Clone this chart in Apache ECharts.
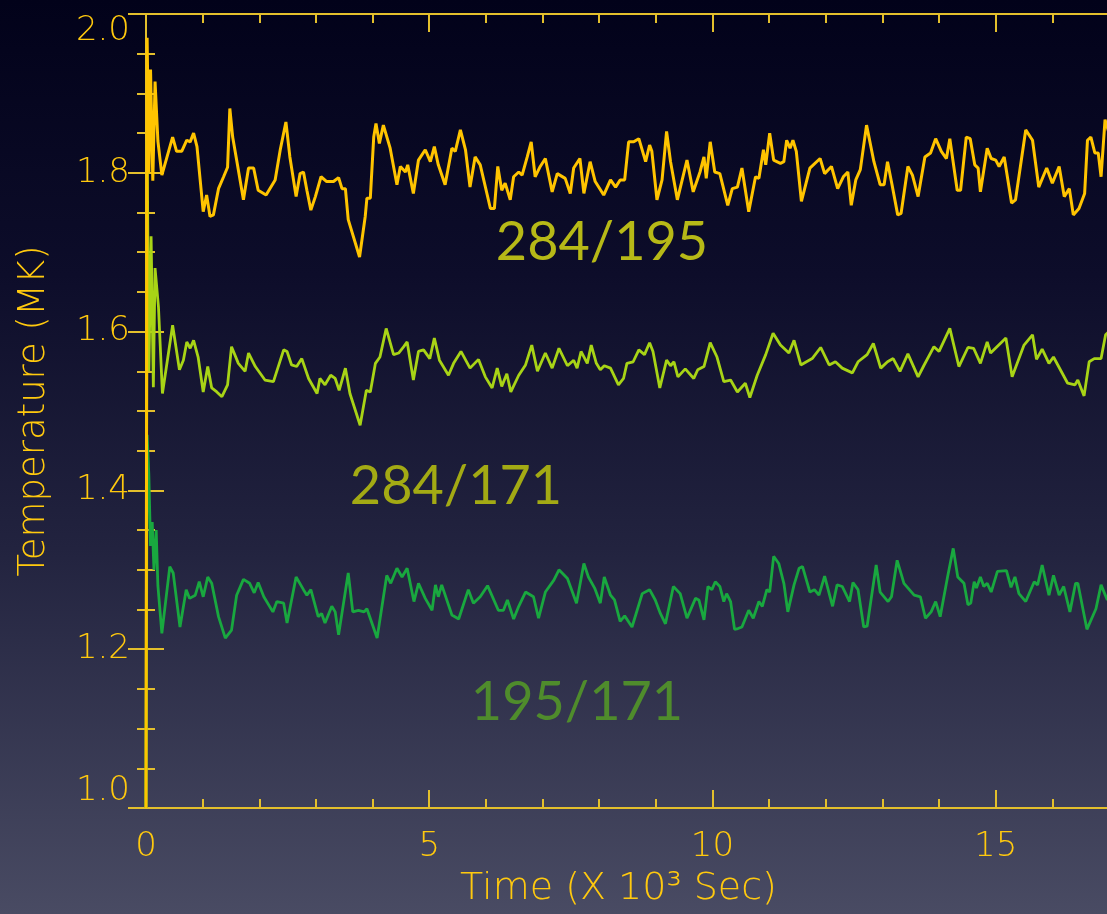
<!DOCTYPE html>
<html>
<head>
<meta charset="utf-8">
<script src="https://cdn.jsdelivr.net/npm/echarts@6/dist/echarts.min.js"></script>
<style>
html,body{margin:0;padding:0;width:1107px;height:914px;overflow:hidden;background:#0a0a20;}
#c{width:1107px;height:914px;}
</style>
</head>
<body>
<div id="c"></div>
<script>
// ---- Data (time in 10^3 s, temperature in MK) ----
const xTicks = [0, 5, 10, 15];
const yTicks = [1.0, 1.2, 1.4, 1.6, 1.8, 2.0];

const t284_195 = [0,0.02,0.05,0.08,0.12,0.16,0.21,0.28,0.47,0.54,0.63,0.72,0.78,0.84,0.90,1.01,1.07,1.13,1.19,1.28,1.37,1.44,1.48,1.53,1.60,1.72,1.81,1.90,1.98,2.12,2.28,2.37,2.47,2.54,2.65,2.72,2.78,2.84,2.91,2.99,3.09,3.19,3.31,3.40,3.46,3.52,3.57,3.77,3.87,3.90,3.96,4.02,4.06,4.12,4.19,4.31,4.43,4.49,4.58,4.62,4.72,4.81,4.93,5.02,5.09,5.16,5.28,5.40,5.46,5.55,5.64,5.72,5.81,5.90,6.08,6.15,6.21,6.28,6.34,6.43,6.49,6.58,6.64,6.73,6.80,6.87,6.96,7.05,7.17,7.26,7.40,7.49,7.55,7.66,7.73,7.84,7.93,8.08,8.20,8.29,8.37,8.45,8.52,8.61,8.70,8.82,8.89,8.93,9.02,9.11,9.19,9.26,9.38,9.55,9.66,9.78,9.85,9.89,9.96,10.04,10.13,10.27,10.35,10.44,10.52,10.64,10.76,10.82,10.90,10.94,11.01,11.08,11.20,11.26,11.31,11.37,11.42,11.48,11.57,11.72,11.90,11.98,12.10,12.21,12.31,12.39,12.45,12.53,12.61,12.72,12.85,12.96,13.03,13.09,13.17,13.27,13.33,13.45,13.53,13.63,13.75,13.85,13.94,14.04,14.13,14.19,14.32,14.38,14.48,14.55,14.63,14.69,14.73,14.85,14.92,15.00,15.06,15.15,15.28,15.35,15.53,15.65,15.76,15.90,16.00,16.12,16.21,16.30,16.37,16.47,16.57,16.62,16.68,16.75,16.81,16.86,16.93,17.0];
const v284_195 = [1.00,1.97,1.80,1.93,1.79,1.915,1.84,1.797,1.845,1.827,1.827,1.841,1.839,1.850,1.833,1.751,1.772,1.745,1.747,1.780,1.795,1.807,1.881,1.845,1.816,1.766,1.806,1.806,1.778,1.772,1.791,1.829,1.864,1.820,1.770,1.799,1.801,1.778,1.753,1.770,1.795,1.789,1.789,1.794,1.780,1.780,1.741,1.694,1.745,1.768,1.768,1.845,1.862,1.837,1.860,1.831,1.785,1.808,1.801,1.810,1.774,1.816,1.829,1.814,1.833,1.810,1.785,1.831,1.827,1.854,1.829,1.782,1.820,1.810,1.755,1.755,1.808,1.778,1.787,1.766,1.795,1.801,1.797,1.820,1.839,1.795,1.808,1.818,1.776,1.799,1.793,1.774,1.806,1.818,1.774,1.814,1.789,1.772,1.791,1.782,1.791,1.791,1.839,1.839,1.843,1.814,1.835,1.827,1.766,1.791,1.852,1.814,1.766,1.816,1.776,1.801,1.820,1.793,1.839,1.801,1.799,1.759,1.780,1.782,1.806,1.751,1.795,1.793,1.829,1.810,1.850,1.816,1.812,1.814,1.841,1.831,1.841,1.827,1.764,1.806,1.818,1.799,1.808,1.780,1.795,1.801,1.759,1.791,1.804,1.860,1.814,1.785,1.785,1.814,1.785,1.747,1.749,1.808,1.797,1.770,1.820,1.825,1.843,1.827,1.818,1.843,1.778,1.778,1.845,1.843,1.810,1.806,1.776,1.831,1.818,1.816,1.808,1.820,1.762,1.766,1.854,1.841,1.782,1.806,1.787,1.808,1.770,1.780,1.747,1.755,1.774,1.841,1.845,1.825,1.825,1.795,1.867,1.85];

const t284_171 = [0,0.02,0.05,0.09,0.13,0.16,0.22,0.29,0.47,0.59,0.66,0.72,0.78,0.84,0.92,1.01,1.09,1.16,1.25,1.34,1.44,1.51,1.63,1.75,1.81,1.93,2.10,2.25,2.43,2.49,2.57,2.66,2.75,2.87,3.02,3.07,3.16,3.26,3.34,3.41,3.52,3.60,3.78,3.89,3.96,4.05,4.13,4.24,4.37,4.46,4.55,4.61,4.72,4.81,4.90,5.01,5.09,5.18,5.34,5.43,5.56,5.72,5.87,5.99,6.11,6.20,6.28,6.37,6.44,6.58,6.70,6.81,6.91,7.05,7.17,7.29,7.44,7.55,7.61,7.68,7.79,7.86,7.95,8.02,8.09,8.20,8.34,8.43,8.49,8.60,8.70,8.80,8.89,8.95,9.07,9.19,9.26,9.32,9.39,9.52,9.67,9.74,9.85,9.96,10.08,10.20,10.32,10.44,10.58,10.66,10.79,10.94,11.07,11.20,11.35,11.44,11.56,11.76,11.91,12.06,12.17,12.29,12.47,12.57,12.73,12.84,12.97,13.09,13.19,13.31,13.45,13.63,13.73,13.91,14.00,14.19,14.35,14.51,14.61,14.73,14.85,14.91,15.18,15.29,15.50,15.65,15.72,15.82,15.94,16.02,16.27,16.40,16.45,16.56,16.65,16.74,16.86,16.94,17.0];
const v284_171 = [1.00,1.84,1.55,1.72,1.53,1.68,1.631,1.522,1.608,1.552,1.564,1.587,1.579,1.589,1.568,1.524,1.556,1.529,1.524,1.518,1.533,1.581,1.560,1.550,1.573,1.556,1.539,1.537,1.577,1.575,1.558,1.556,1.566,1.541,1.522,1.541,1.533,1.545,1.541,1.526,1.554,1.522,1.482,1.526,1.524,1.560,1.568,1.604,1.571,1.573,1.581,1.587,1.539,1.575,1.577,1.566,1.592,1.564,1.545,1.560,1.575,1.554,1.565,1.543,1.529,1.554,1.531,1.547,1.524,1.545,1.558,1.583,1.550,1.573,1.554,1.579,1.557,1.564,1.554,1.575,1.560,1.583,1.560,1.552,1.557,1.554,1.533,1.541,1.560,1.562,1.577,1.571,1.586,1.575,1.529,1.564,1.557,1.562,1.543,1.553,1.541,1.552,1.556,1.586,1.568,1.537,1.539,1.524,1.535,1.517,1.545,1.571,1.598,1.583,1.573,1.589,1.558,1.566,1.580,1.558,1.562,1.554,1.548,1.562,1.571,1.585,1.554,1.562,1.566,1.550,1.572,1.543,1.557,1.581,1.575,1.604,1.556,1.580,1.579,1.560,1.587,1.573,1.592,1.543,1.583,1.596,1.565,1.578,1.560,1.568,1.535,1.533,1.539,1.519,1.562,1.566,1.566,1.596,1.60];

const t195_171 = [0,0.02,0.05,0.08,0.11,0.14,0.18,0.21,0.28,0.42,0.48,0.60,0.71,0.77,0.87,0.94,1.01,1.09,1.16,1.28,1.40,1.51,1.60,1.72,1.83,1.91,1.98,2.08,2.24,2.31,2.43,2.49,2.65,2.78,2.84,2.91,3.04,3.10,3.16,3.28,3.34,3.40,3.57,3.65,3.75,3.85,3.90,4.08,4.25,4.32,4.43,4.52,4.61,4.73,4.81,4.93,5.05,5.11,5.16,5.22,5.40,5.52,5.69,5.78,5.90,6.03,6.22,6.31,6.38,6.49,6.58,6.70,6.84,6.93,7.05,7.20,7.29,7.44,7.60,7.73,7.81,7.92,8.02,8.09,8.20,8.27,8.37,8.45,8.58,8.76,8.89,8.99,9.08,9.17,9.31,9.43,9.55,9.70,9.76,9.85,9.92,9.99,10.05,10.13,10.20,10.25,10.32,10.39,10.45,10.52,10.64,10.72,10.82,10.88,10.96,11.01,11.08,11.17,11.26,11.33,11.44,11.53,11.59,11.72,11.80,11.88,11.98,12.12,12.20,12.29,12.42,12.48,12.57,12.67,12.73,12.89,12.96,13.10,13.16,13.26,13.38,13.56,13.67,13.76,13.86,13.94,14.02,14.15,14.25,14.33,14.44,14.51,14.56,14.62,14.66,14.73,14.79,14.85,14.92,15.03,15.19,15.27,15.34,15.41,15.53,15.68,15.74,15.82,15.94,16.02,16.12,16.20,16.31,16.41,16.45,16.61,16.77,16.86,16.97,17.0];
const v195_171 = [1.00,1.47,1.42,1.33,1.36,1.30,1.35,1.28,1.220,1.304,1.296,1.228,1.275,1.264,1.268,1.285,1.266,1.291,1.283,1.241,1.214,1.224,1.268,1.288,1.283,1.271,1.284,1.266,1.247,1.260,1.258,1.233,1.291,1.275,1.268,1.275,1.241,1.245,1.233,1.254,1.247,1.218,1.296,1.247,1.249,1.247,1.251,1.214,1.293,1.283,1.302,1.291,1.302,1.260,1.283,1.264,1.249,1.281,1.266,1.281,1.243,1.238,1.275,1.258,1.266,1.280,1.249,1.249,1.262,1.238,1.254,1.272,1.266,1.239,1.272,1.287,1.300,1.289,1.258,1.308,1.291,1.277,1.258,1.291,1.268,1.262,1.235,1.242,1.228,1.270,1.275,1.262,1.245,1.232,1.279,1.270,1.239,1.264,1.262,1.237,1.279,1.275,1.285,1.279,1.260,1.270,1.260,1.225,1.226,1.228,1.249,1.239,1.260,1.254,1.275,1.272,1.317,1.308,1.283,1.247,1.281,1.302,1.304,1.272,1.275,1.268,1.292,1.254,1.281,1.279,1.260,1.284,1.275,1.228,1.229,1.306,1.272,1.260,1.266,1.312,1.283,1.268,1.266,1.239,1.247,1.260,1.241,1.291,1.327,1.291,1.283,1.256,1.258,1.285,1.277,1.291,1.279,1.283,1.272,1.298,1.299,1.278,1.291,1.270,1.260,1.285,1.281,1.306,1.268,1.293,1.268,1.279,1.247,1.283,1.283,1.225,1.251,1.281,1.262,1.265];

const seriesNames = ['284/195', '284/171', '195/171'];
const seriesColors = ['#ffc400', '#a8d416', '#19a83f'];
const labelColors = ['#b7b917', '#a3aa14', '#4f8c2c'];

function zip(t, v) { return t.map((x, i) => [x, v[i]]); }

const chart = echarts.init(document.getElementById('c'));
const AX = '#e3bf2c';
const LBL = '#ffc90e';
const FONT = 'DejaVu Sans';

function xAxisDef(pos, showLabel) {
  return {
    type: 'value', position: pos, min: 0, max: 17, interval: 5,
    name: showLabel ? 'Time (X 10\u00b3 Sec)' : '', nameLocation: 'middle', nameGap: 62,
    nameTextStyle: { color: LBL, fontSize: 38, fontFamily: FONT, fontWeight: 200, padding: [0, 18, 0, 0] },
    axisLine: { show: true, lineStyle: { color: AX, width: 2 } },
    axisTick: { show: true, inside: true, length: 18, lineStyle: { color: AX, width: 2 } },
    minorTick: { show: true, splitNumber: 5, length: 9, lineStyle: { color: AX, width: 2 } },
    axisLabel: { show: showLabel, color: LBL, fontSize: 34, fontFamily: FONT, fontWeight: 200, margin: 22, showMaxLabel: false },
    splitLine: { show: false }
  };
}
function yAxisDef(pos, showLabel) {
  return {
    type: 'value', position: pos, min: 1.0, max: 2.0, interval: 0.2,
    name: showLabel ? 'Temperature (MK)' : '', nameLocation: 'middle', nameGap: 93,
    nameTextStyle: { color: LBL, fontSize: 37, fontFamily: FONT, fontWeight: 200 },
    axisLine: { show: true, lineStyle: { color: AX, width: 2 } },
    axisTick: { show: true, inside: true, length: 18, lineStyle: { color: AX, width: 2 } },
    minorTick: { show: true, splitNumber: 4, length: 9, lineStyle: { color: AX, width: 2 } },
    axisLabel: { show: showLabel, color: LBL, fontSize: 34, fontFamily: FONT, fontWeight: 200, margin: 16,
      verticalAlignMaxLabel: 'top', verticalAlignMinLabel: 'bottom',
      formatter: v => v.toFixed(1) },
    splitLine: { show: false }
  };
}

const dataSets = [zip(t284_195, v284_195), zip(t284_171, v284_171), zip(t195_171, v195_171)];

chart.setOption({
  animation: false,
  backgroundColor: {
    type: 'linear', x: 0, y: 0, x2: 0, y2: 1,
    colorStops: [
      { offset: 0, color: '#02021a' },
      { offset: 0.3, color: '#0d0d2a' },
      { offset: 0.6, color: '#22233f' },
      { offset: 1, color: '#494b63' }
    ]
  },
  grid: { left: 146, top: 14, right: -2, bottom: 106, outerBoundsMode: 'none', containLabel: false },
  xAxis: [xAxisDef('bottom', true), xAxisDef('top', false)],
  yAxis: [yAxisDef('left', true), yAxisDef('right', false)],
  series: [2, 1, 0].map(i => ({
    name: seriesNames[i], type: 'line', xAxisIndex: 0, yAxisIndex: 0,
    data: dataSets[i], showSymbol: false, symbol: 'none',
    lineStyle: { color: seriesColors[i], width: i === 0 ? 3 : 2.8 },
    z: 3 + (2 - i)
  })),
  graphic: [
    { type: 'text', x: 602, y: 243, style: { text: seriesNames[0], fill: labelColors[0], font: '54px Lato', align: 'center', verticalAlign: 'middle' } },
    { type: 'text', x: 456, y: 487, style: { text: seriesNames[1], fill: labelColors[1], font: '54px Lato', align: 'center', verticalAlign: 'middle' } },
    { type: 'text', x: 577, y: 703, style: { text: seriesNames[2], fill: labelColors[2], font: '54px Lato', align: 'center', verticalAlign: 'middle' } }
  ]
});
</script>
</body>
</html>
